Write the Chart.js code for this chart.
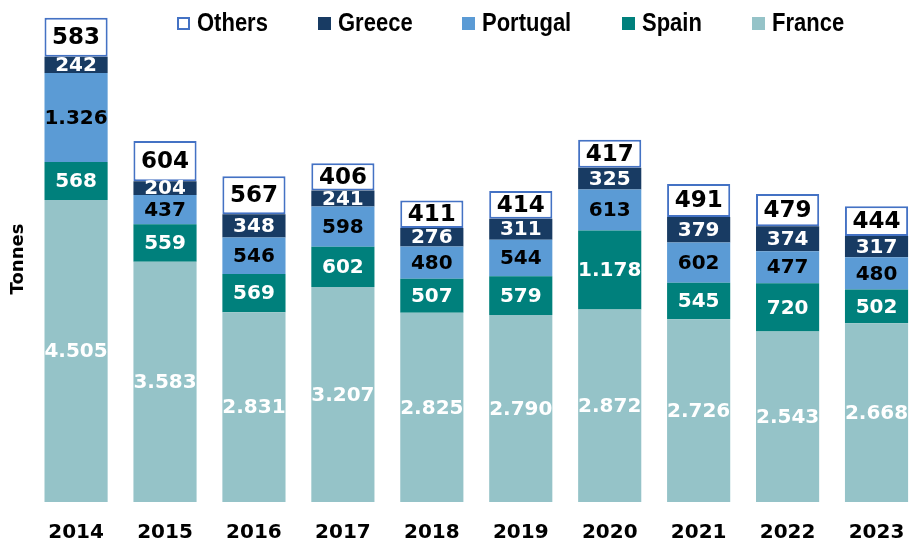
<!DOCTYPE html>
<html>
<head>
<meta charset="utf-8">
<script src="https://cdn.jsdelivr.net/npm/chart.js@4.4.1/dist/chart.umd.min.js"></script>
<style>
  html, body { margin: 0; padding: 0; background: #fff; overflow: hidden; }
  #wrap { position: relative; width: 921px; height: 543px; }
  #legenda {
    position: absolute; top: 8px; left: 177px;
    display: flex; gap: 50px; white-space: nowrap;
    font-family: "Liberation Sans", Arial, sans-serif;
    font-weight: bold; font-size: 25px; line-height: 28px; color: #000;
  }
  #legenda .item { display: flex; align-items: center; }
  #legenda .caixa { width: 13px; height: 13px; margin-right: 7px; margin-top: 3px; box-sizing: border-box; }
  #legenda .texto { display: inline-block; transform: scaleX(0.88); transform-origin: left center; }
</style>
</head>
<body>
<div id="wrap">
  <canvas id="grafico" width="921" height="543"></canvas>
  <div id="legenda"></div>
</div>
<script>
const anos = ['2014', '2015', '2016', '2017', '2018', '2019', '2020', '2021', '2022', '2023'];
const franca   = [4505, 3583, 2831, 3207, 2825, 2790, 2872, 2726, 2543, 2668];
const espanha  = [568, 559, 569, 602, 507, 579, 1178, 545, 720, 502];
const portugal = [1326, 437, 546, 598, 480, 544, 613, 602, 477, 480];
const grecia   = [242, 204, 348, 241, 276, 311, 325, 379, 374, 317];
const outros   = [583, 604, 567, 406, 411, 414, 417, 491, 479, 444];

// formato com ponto nos milhares (1.326)
function formatar(n) {
  return String(n).replace(/\B(?=(\d{3})+(?!\d))/g, '.');
}

const datasets = [
  { label: 'France', data: franca, backgroundColor: '#95C3C8', corTexto: '#fff', tamanho: 20 },
  { label: 'Spain', data: espanha, backgroundColor: '#00807C', corTexto: '#fff', tamanho: 20 },
  { label: 'Portugal', data: portugal, backgroundColor: '#5B9BD5', corTexto: '#000', tamanho: 20 },
  { label: 'Greece', data: grecia, backgroundColor: '#183B63', corTexto: '#fff', tamanho: 20 },
  { label: 'Others', data: outros, backgroundColor: '#fff', borderColor: '#4472C4',
    borderWidth: 2, borderSkipped: false, corTexto: '#000', tamanho: 23 }
];

// plugin simples: valores no meio de cada segmento + anos por baixo
const rotulos = {
  id: 'rotulos',
  afterDatasetsDraw(chart) {
    const ctx = chart.ctx;
    ctx.save();
    ctx.textAlign = 'center';
    ctx.textBaseline = 'middle';
    chart.data.datasets.forEach((ds, i) => {
      const meta = chart.getDatasetMeta(i);
      ctx.fillStyle = ds.corTexto;
      ctx.font = 'bold ' + ds.tamanho + 'px "DejaVu Sans"';
      meta.data.forEach((barra, j) => {
        const p = barra.getCenterPoint();
        ctx.fillText(formatar(ds.data[j]), p.x, p.y + 1);
      });
    });

    const eixoX = chart.scales.x;
    ctx.fillStyle = '#000';
    ctx.font = 'bold 20px "DejaVu Sans"';
    chart.data.labels.forEach((ano, j) => {
      ctx.fillText(ano, eixoX.getPixelForValue(j), chart.chartArea.bottom + 31);
    });
    ctx.restore();
  }
};

const ctx = document.getElementById('grafico').getContext('2d');
const grafico = new Chart(ctx, {
  type: 'bar',
  data: { labels: anos, datasets: datasets },
  options: {
    responsive: false,
    animation: false,
    layout: { padding: { top: 16, right: 0, bottom: 41, left: 0 } },
    datasets: { bar: { categoryPercentage: 1, barPercentage: 0.71 } },
    plugins: { legend: { display: false }, tooltip: { enabled: false } },
    scales: {
      x: {
        stacked: true,
        grid: { display: false, drawTicks: false },
        border: { display: false },
        ticks: { display: false }
      },
      y: {
        stacked: true,
        min: 0,
        max: 7250,
        grid: { display: false, drawTicks: false },
        border: { display: false },
        ticks: { display: false },
        title: {
          display: true, text: 'Tonnes', color: '#000',
          padding: { top: 8, bottom: 2 },
          font: { family: '"DejaVu Sans"', weight: 'bold', size: 18 }
        }
      }
    }
  },
  plugins: [rotulos]
});

// legenda em HTML, ordem inversa (de cima para baixo)
const legenda = document.getElementById('legenda');
datasets.slice().reverse().forEach(ds => {
  const item = document.createElement('div');
  item.className = 'item';
  const caixa = document.createElement('span');
  caixa.className = 'caixa';
  caixa.style.background = ds.backgroundColor;
  if (ds.borderColor) caixa.style.border = '2px solid ' + ds.borderColor;
  const texto = document.createElement('span');
  texto.className = 'texto';
  texto.innerText = ds.label;
  item.appendChild(caixa);
  item.appendChild(texto);
  legenda.appendChild(item);
  // compensa a largura perdida com o scaleX
  texto.style.marginRight = (-0.12 * texto.offsetWidth) + 'px';
});
</script>
</body>
</html>
